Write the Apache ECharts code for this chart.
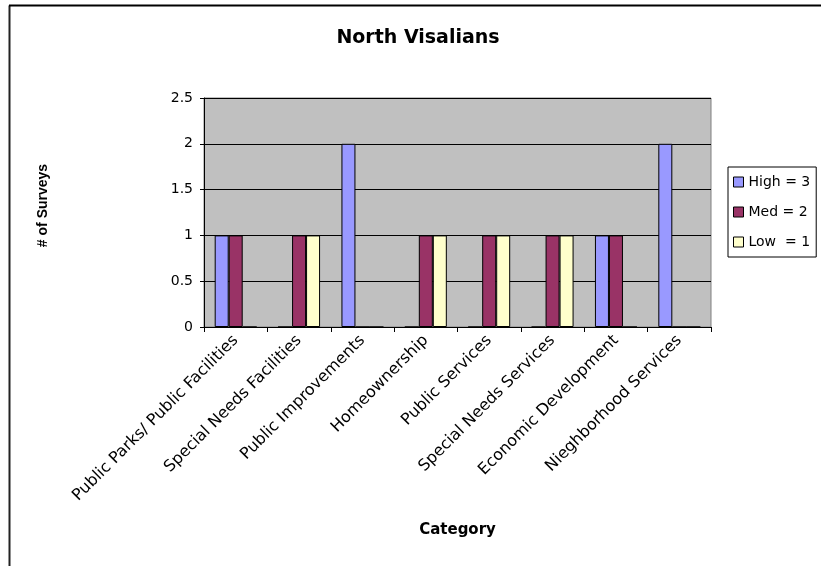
<!DOCTYPE html>
<html>
<head>
<meta charset="utf-8">
<script src="https://cdn.jsdelivr.net/npm/echarts@6/dist/echarts.min.js"></script>
<style>
html,body{margin:0;padding:0;background:#fff;}
#chart{width:821px;height:566px;}
</style>
</head>
<body>
<div id="chart"></div>
<script>
const categories = [
  "Public Parks/ Public Facilities",
  "Special Needs Facilities",
  "Public Improvements",
  "Homeownership",
  "Public Services",
  "Special Needs Services",
  "Economic Development",
  "Nieghborhood Services"
];
const highValues = [1, 0, 2, 0, 0, 0, 1, 2];
const medValues  = [1, 1, 0, 1, 1, 1, 1, 0];
const lowValues  = [0, 1, 0, 1, 1, 1, 0, 0];
const seriesNames = ["High = 3", "Med = 2", "Low  = 1"];
const seriesColors = ["#9999FF", "#993366", "#FFFFCC"];
const yTicks = {min: 0, max: 2.5, interval: 0.5};

const FONT = "DejaVu Sans, Verdana, sans-serif";
const ARIAL = "Liberation Sans, Arial, sans-serif";
const chart = echarts.init(document.getElementById('chart'), null, {renderer: 'canvas'});

function mkSeries(name, data, color) {
  return {
    name: name,
    type: 'bar',
    data: data,
    barWidth: 14,
    barGap: '0%',
    itemStyle: {color: color, borderColor: '#000', borderWidth: 1},
    emphasis: {disabled: true},
    animation: false
  };
}

chart.setOption({
  animation: false,
  textStyle: {fontFamily: FONT},
  title: {
    text: 'North Visalians',
    left: 413, top: 24, textAlign: 'center',
    textStyle: {fontFamily: FONT, fontSize: 19, fontWeight: 'bold', color: '#000'}
  },
  graphic: [
    {type: 'line', shape: {x1: 9.5, y1: 5.5, x2: 9.5, y2: 566}, style: {stroke: '#222', lineWidth: 2}},
    {type: 'line', shape: {x1: 9, y1: 5.5, x2: 821, y2: 5.5}, style: {stroke: '#000', lineWidth: 2}}
  ],
  legend: {
    orient: 'vertical',
    left: 728, top: 167,
    padding: [8, 6, 8, 5],
    itemGap: 16,
    itemWidth: 10, itemHeight: 10,
    icon: 'rect',
    borderColor: '#000', borderWidth: 1,
    backgroundColor: '#fff',
    itemStyle: {borderColor: '#000', borderWidth: 1},
    textStyle: {fontFamily: FONT, fontSize: 14, color: '#000'},
    data: seriesNames
  },
  grid: {
    left: 204, right: 110, top: 98, bottom: 239,
    show: true, backgroundColor: '#C0C0C0', borderColor: '#808080', borderWidth: 1
  },
  xAxis: {
    type: 'category',
    data: categories,
    name: 'Category',
    nameLocation: 'middle',
    nameGap: 196,
    nameTextStyle: {fontFamily: FONT, fontSize: 15, fontWeight: 'bold', color: '#000'},
    axisLine: {lineStyle: {color: '#000', width: 1}},
    axisTick: {show: true, length: 5, lineStyle: {color: '#000'}},
    axisLabel: {rotate: 45, fontFamily: FONT, fontSize: 16, color: '#000', margin: 11, interval: 0}
  },
  yAxis: {
    type: 'value',
    min: yTicks.min, max: yTicks.max, interval: yTicks.interval,
    name: '# of Surveys',
    nameLocation: 'middle',
    nameGap: 154,
    nameRotate: 90,
    nameTextStyle: {fontFamily: ARIAL, fontSize: 14, fontWeight: 'bold', color: '#000', padding: [0, 0, 0, 14]},
    axisLine: {show: true, lineStyle: {color: '#000', width: 1}},
    axisTick: {show: true, length: 4, lineStyle: {color: '#000'}},
    axisLabel: {fontFamily: FONT, fontSize: 14, color: '#000', margin: 11},
    splitLine: {show: true, lineStyle: {color: '#000', width: 1}}
  },
  series: [
    mkSeries(seriesNames[0], highValues, seriesColors[0]),
    mkSeries(seriesNames[1], medValues, seriesColors[1]),
    mkSeries(seriesNames[2], lowValues, seriesColors[2])
  ]
});
</script>
</body>
</html>
